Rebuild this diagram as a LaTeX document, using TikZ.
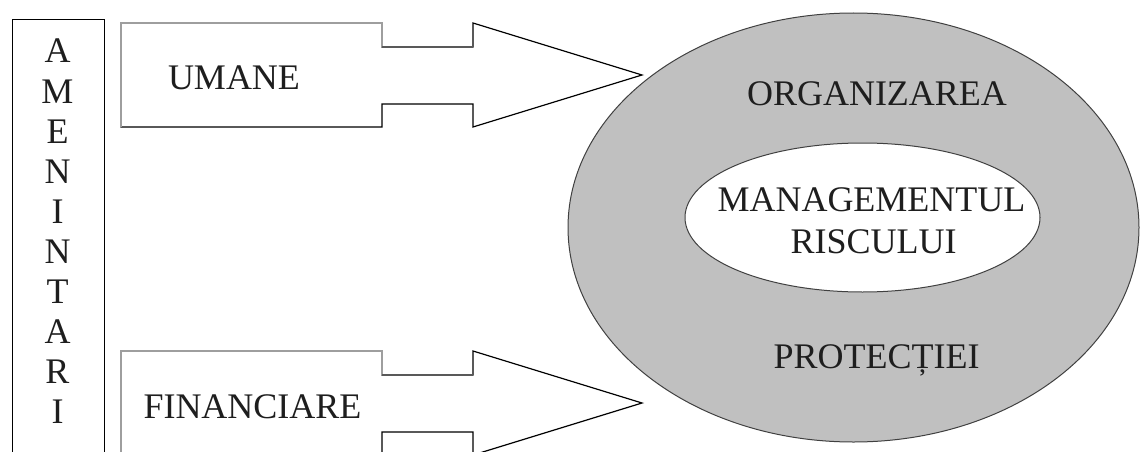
\documentclass[tikz,border=0pt]{standalone}
\usepackage{fontspec}
\setmainfont{Liberation Serif}
\usetikzlibrary{shapes.geometric}
\definecolor{ringgray}{RGB}{192,192,192}
\definecolor{inkdark}{RGB}{30,30,30}
\tikzset{
  lbl/.style={inner sep=0pt, anchor=base, text=inkdark, font=\fontsize{36}{40}\selectfont},
  framebox/.style={draw=black, line width=1.3pt, inner sep=0pt, anchor=north west},
  ring/.style={ellipse, draw=inkdark!85, line width=1pt, inner sep=0pt},
  % block arrow: wide body, narrow neck, triangular head
  inflow/.pic={
    \path[fill=white, draw=black, line width=1.2pt, line join=miter]
      (0,0) -- (261,0) -- (261,24) -- (352,24) -- (352,0) -- (521,52)
      -- (352,104) -- (352,81) -- (261,81) -- (261,104) -- (0,104) -- cycle;
    \draw[black!38, line width=1.5pt] (0,104) -- (0,0) -- (261,0) -- (261,24);
    \draw[black!65, line width=1.2pt] (261,24) -- (352,24);
  }
}
\begin{document}
\begin{tikzpicture}[x=1pt, y=-1pt]
\useasboundingbox (0,0) rectangle (1140,452);
\clip (0,0) rectangle (1140,452);

% left frame with the vertical word
\node (threats) [framebox, minimum width=92pt, minimum height=470pt] at (11.5,19) {};
\foreach \ch [count=\i] in {A,M,E,N,I,N,T,A,R,I}
  \node (ltr\i) [lbl] at (57.5, {63+(\i-1)*40.1}) {\ch};

% the two incoming block arrows
\pic (up) at (121,23) {inflow};
\pic (down) at (121,351) {inflow};
\node (umane) [lbl] at (234,89) {UMANE};
\node (fin) [lbl] at (252.5,418) {FINANCIARE};

% organisation ring and inner core
\node (org) [ring, fill=ringgray, minimum width=571pt, minimum height=429pt] at (853.5,227.5) {};
\node (core) [ring, fill=white, minimum width=355pt, minimum height=149pt] at (862.5,217.5) {};
\node (orgtop) [lbl] at (877,105) {ORGANIZAREA};
\node (mgmt) [lbl] at (871.5,211.7) {MANAGEMENTUL};
\node (risk) [lbl] at (873.5,253) {RISCULUI};
\node (prot) [lbl] at (876.5,368) {PROTECȚIEI};
\end{tikzpicture}
\end{document}
